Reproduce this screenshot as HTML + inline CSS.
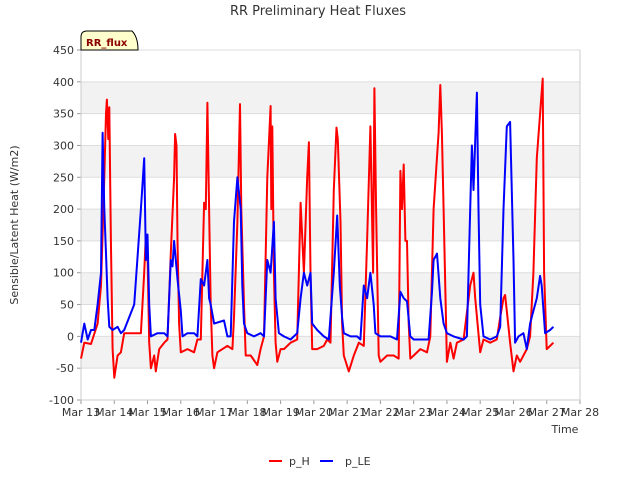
<!DOCTYPE html>
<html><head><meta charset="utf-8"><style>
body{margin:0;background:#fff;font-family:"Liberation Sans",sans-serif;}
svg text{font-family:"DejaVu Sans","Liberation Sans",sans-serif;}
</style></head><body>
<svg id="c" width="640" height="480" xmlns="http://www.w3.org/2000/svg">
<text x="318" y="15" text-anchor="middle" font-size="13" fill="#333">RR Preliminary Heat Fluxes</text>
<g id="grid"></g>
<g id="axes"></g>
<g id="series"></g>
<g>
<path d="M81,50 L81,37 Q81,31 87,31 L132,31 Q138,37 138,50 Z" fill="#ffffcc" stroke="#000" stroke-width="1"/>
<text x="86" y="46" font-size="10" font-weight="bold" fill="#8b0000">RR_flux</text></g>
<text x="565" y="433" text-anchor="middle" font-size="11" fill="#333">Time</text>
<text transform="translate(18,225) rotate(-90)" text-anchor="middle" font-size="11" fill="#333">Sensible/Latent Heat (W/m2)</text>
<g>
<g><line x1="269" y1="461" x2="282" y2="461" stroke="red" stroke-width="2"/><text x="289" y="465" font-size="11" fill="#333">p_H</text></g>
<g><line x1="320" y1="461" x2="333" y2="461" stroke="blue" stroke-width="2"/><text x="345" y="465" font-size="11" fill="#333">p_LE</text></g>
</g>
</svg>
<script>
const yTicks=[-100,-50,0,50,100,150,200,250,300,350,400,450];
const xTickLabels=["Mar 13","Mar 14","Mar 15","Mar 16","Mar 17","Mar 18","Mar 19","Mar 20","Mar 21","Mar 22","Mar 23","Mar 24","Mar 25","Mar 26","Mar 27","Mar 28"];
const hTimes=[13.0,13.1,13.3,13.5,13.6,13.7,13.75,13.78,13.82,13.85,13.9,13.95,14.0,14.1,14.2,14.3,14.6,14.8,14.9,14.95,15.0,15.05,15.1,15.2,15.25,15.35,15.5,15.6,15.7,15.8,15.83,15.87,15.9,15.95,16.0,16.2,16.4,16.5,16.6,16.7,16.75,16.8,16.85,16.9,16.95,17.0,17.1,17.4,17.55,17.6,17.7,17.78,17.82,17.9,17.95,18.1,18.3,18.4,18.5,18.6,18.7,18.72,18.75,18.8,18.85,18.9,19.0,19.1,19.3,19.5,19.6,19.7,19.8,19.85,19.9,19.95,20.1,20.3,20.4,20.5,20.6,20.68,20.72,20.8,20.85,20.9,21.05,21.2,21.35,21.5,21.6,21.7,21.78,21.82,21.87,21.95,22.0,22.2,22.4,22.55,22.6,22.65,22.7,22.75,22.8,22.85,22.9,23.0,23.2,23.4,23.5,23.6,23.75,23.8,23.85,23.9,24.0,24.1,24.2,24.3,24.5,24.7,24.8,24.85,25.0,25.1,25.3,25.5,25.6,25.7,25.75,25.8,25.9,26.0,26.1,26.2,26.4,26.5,26.6,26.7,26.8,26.88,26.92,27.0,27.1,27.2];
const hValues=[-35,-10,-12,20,80,250,350,372,310,360,150,-20,-65,-30,-25,5,5,5,100,160,130,-10,-50,-30,-55,-20,-10,-5,130,250,318,300,150,20,-25,-20,-25,-5,-5,210,200,367,200,50,-30,-50,-25,-15,-20,30,180,365,200,50,-30,-30,-45,-20,0,250,362,200,330,100,-10,-40,-20,-20,-10,-5,210,100,250,305,100,-20,-20,-15,-5,-10,230,328,310,180,20,-30,-55,-30,-10,-15,150,330,100,390,200,-30,-40,-30,-30,-35,260,200,270,150,150,20,-35,-30,-20,-25,0,200,320,395,320,200,-40,-10,-35,-10,-5,80,100,60,-25,-5,-10,-5,30,60,65,40,-10,-55,-30,-40,-20,0,100,280,350,405,100,-20,-15,-10];
const leTimes=[13.0,13.1,13.2,13.3,13.4,13.5,13.6,13.65,13.7,13.75,13.8,13.85,13.95,14.1,14.2,14.3,14.6,14.8,14.9,14.95,15.0,15.05,15.1,15.3,15.5,15.6,15.7,15.75,15.8,15.9,16.0,16.05,16.2,16.4,16.5,16.6,16.7,16.8,16.85,16.9,17.0,17.3,17.4,17.5,17.6,17.7,17.8,17.85,17.9,18.0,18.2,18.4,18.5,18.6,18.7,18.8,18.85,18.95,19.1,19.3,19.5,19.6,19.7,19.8,19.9,19.95,20.1,20.3,20.45,20.6,20.7,20.78,20.85,20.9,21.1,21.3,21.4,21.5,21.6,21.7,21.8,21.85,22.0,22.3,22.5,22.6,22.7,22.8,22.9,23.0,23.3,23.45,23.55,23.6,23.7,23.8,23.9,24.0,24.2,24.5,24.6,24.7,24.75,24.8,24.9,24.95,25.0,25.1,25.3,25.5,25.6,25.7,25.8,25.9,26.0,26.05,26.15,26.3,26.4,26.5,26.6,26.7,26.8,26.85,26.95,27.1,27.2];
const leValues=[-10,20,-5,10,10,50,100,320,200,130,60,15,10,15,5,10,50,200,280,120,160,50,0,5,5,0,120,110,150,90,40,0,5,5,0,90,80,120,60,50,20,25,0,0,180,250,200,80,20,5,0,5,0,120,100,180,60,5,0,-5,5,60,100,80,100,20,10,0,-5,100,190,80,30,5,0,0,-5,80,60,100,50,5,0,0,-5,70,60,55,0,-5,-5,-5,70,120,130,60,20,5,0,-5,0,200,300,230,383,200,50,0,-5,0,15,200,330,337,120,-10,0,5,-20,20,40,60,95,80,5,10,15];
const L=81,R=580,T=50,B=400,x0=13,x1=28,yMin=-100,yMax=450;
const xs=t=>L+(t-x0)/(x1-x0)*(R-L);
const ys=v=>B-(v-yMin)/(yMax-yMin)*(B-T);
const NS="http://www.w3.org/2000/svg";
function mk(tag,attrs,parent){const e=document.createElementNS(NS,tag);for(const k in attrs)e.setAttribute(k,attrs[k]);parent.appendChild(e);return e;}
const grid=document.getElementById('grid'),axes=document.getElementById('axes'),ser=document.getElementById('series');
for(let i=0;i<yTicks.length-1;i++){
 const a=yTicks[i],b=yTicks[i+1];
 const gray=(Math.round((a+100)/50)%2===1);
 const r=mk('rect',{x:L,y:ys(b),width:R-L,height:ys(a)-ys(b),fill:gray?'#f2f2f2':'#fff'},grid);
 
 
}
yTicks.forEach(v=>{
 const ln=mk('line',{x1:L,x2:R,y1:ys(v),y2:ys(v),stroke:'#ddd','stroke-width':1},grid);
 
 
 mk('line',{x1:L-4,x2:L,y1:ys(v),y2:ys(v),stroke:'#999'},axes);
 const t=mk('text',{x:L-7,y:ys(v)+4,'text-anchor':'end','font-size':11,fill:'#333'},axes);
 t.textContent=v;
 
 
});
xTickLabels.forEach((lab,i)=>{
 const x=xs(x0+i);
 mk('line',{x1:x,x2:x,y1:B,y2:B+4,stroke:'#999'},axes);
 const t=mk('text',{x:x,y:B+16,'text-anchor':'middle','font-size':11,fill:'#333'},axes);
 t.textContent=lab;
 
 
});
const ax=mk('path',{d:`M${L},${T} L${L},${B} L${R},${B} L${R},${T}`,fill:'none',stroke:'#ccc'},axes);


function line(ts,vs,color,name){
 const d=ts.map((t,i)=>(i?'L':'M')+xs(t).toFixed(1)+','+ys(vs[i]).toFixed(1)).join(' ');
 const p=mk('path',{d:d,fill:'none',stroke:color,'stroke-width':2,'stroke-linejoin':'round'},ser);
 
 
}
line(hTimes,hValues,'red','p-h-line');
line(leTimes,leValues,'blue','p-le-line');
</script>
</body></html>
